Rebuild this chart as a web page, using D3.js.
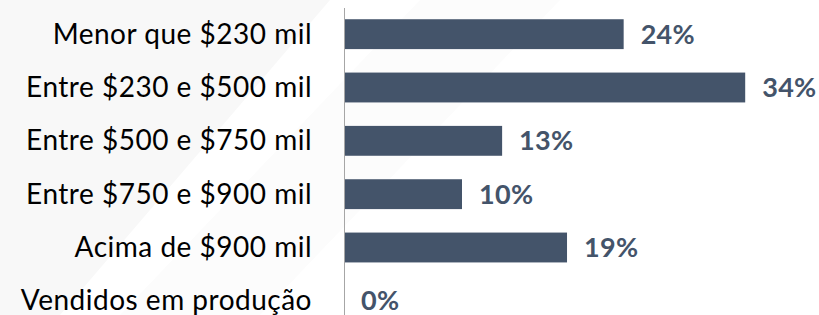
<!DOCTYPE html>
<html>
<head>
<meta charset="utf-8">
<script src="https://cdn.jsdelivr.net/npm/d3@7/dist/d3.min.js"></script>
<style>
  html, body { margin: 0; padding: 0; background: #fff; }
  svg { display: block; }
  .cat-label { font-family: Lato, "Open Sans", sans-serif; fill: #000; letter-spacing: 0.5px; }
  .val-label { font-family: Lato, "Open Sans", sans-serif; font-weight: bold; fill: #44546A; letter-spacing: 0.3px; }
</style>
</head>
<body>
<svg id="chart" width="819" height="315"></svg>
<script>
"use strict";

// faixas de preço e participação (%)
const categories = [
  "Menor que $230 mil",
  "Entre $230 e $500 mil",
  "Entre $500 e $750 mil",
  "Entre $750 e $900 mil",
  "Acima de $900 mil",
  "Vendidos em produção"
]
const shares = [23.7, 34.0, 13.4, 10.0, 18.9, 0.0]

const width = 819
const height = 315
const axisX = 344
const barColor = "#44546A"

const svg = d3.select("#chart")

// fundo com formas geométricas claras
const bg = svg.append("g")
bg.append("rect").attr("width", width).attr("height", height).attr("fill", "#ffffff")
bg.append("path").attr("d", "M0,0 L330,0 L60,315 L0,315 Z").attr("fill", "#f8f8f8")
bg.append("path").attr("d", "M120,315 L420,0 L560,0 L260,315 Z").attr("fill", "#fcfcfc")

const data = categories.map((c, i) => ({ name: c, value: shares[i] }))

const x = d3.scaleLinear()
  .domain([0, 40])
  .range([axisX, axisX + 472])

const y = d3.scaleBand()
  .domain(categories)
  .range([7.5, 327.5])
  .paddingInner(0.44)
  .paddingOuter(0.22)

// barras
svg.selectAll("rect.bar")
  .data(data)
  .enter()
  .append("rect")
  .attr("class", "bar")
  .attr("x", x(0))
  .attr("y", d => y(d.name))
  .attr("width", d => x(d.value) - x(0))
  .attr("height", y.bandwidth())
  .attr("fill", barColor)

// eixo vertical
svg.append("line")
  .attr("x1", axisX + 0.5)
  .attr("x2", axisX + 0.5)
  .attr("y1", 8)
  .attr("y2", height)
  .attr("stroke", "#a6a6a6")
  .attr("stroke-width", 1)

// rótulos das categorias
svg.selectAll("text.cat-label")
  .data(data)
  .enter()
  .append("text")
  .attr("class", "cat-label")
  .attr("x", axisX - 32)
  .attr("y", d => y(d.name) + y.bandwidth() / 2 + 9.5)
  .attr("text-anchor", "end")
  .style("font-size", "28px")
  .text(d => d.name)

// rótulos de valor
svg.selectAll("text.val-label")
  .data(data)
  .enter()
  .append("text")
  .attr("class", "val-label")
  .attr("x", d => x(d.value) + 17)
  .attr("y", d => y(d.name) + y.bandwidth() / 2 + 9.5)
  .style("font-size", "27px")
  .text(d => Math.round(d.value) + "%")
</script>
</body>
</html>
